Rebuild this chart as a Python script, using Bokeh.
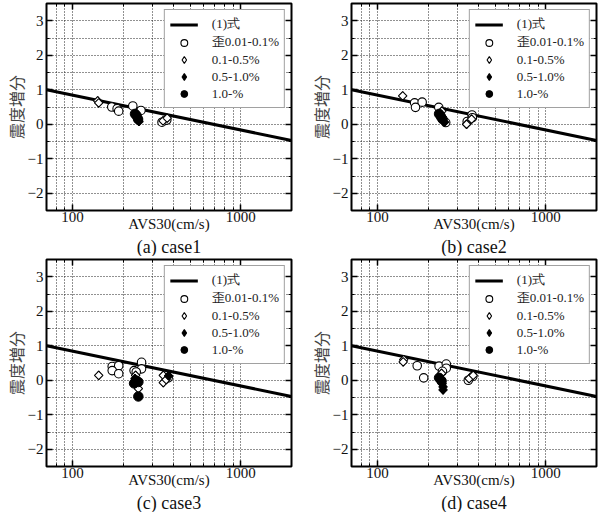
from bokeh.plotting import figure
from bokeh.models import (Range1d, FixedTicker, Legend, LegendItem, LinearAxis, LogAxis,
                          CustomJSTickFormatter, PrintfTickFormatter)
from bokeh.layouts import column, row
from bokeh.embed import file_html
from bokeh.resources import INLINE
import math

# ---- data ----
LINE_X = [70, 2000]
LINE_Y = [1.0, -0.47]

LEGEND_LABELS = ["(1)式", "歪0.01-0.1%", "0.1-0.5%", "0.5-1.0%", "1.0-%"]
TITLES = ["(a) case1", "(b) case2", "(c) case3", "(d) case4"]

X_MAJOR = [100, 1000]
X_MINOR = [70, 80, 90, 200, 300, 400, 500, 600, 700, 800, 900, 2000]
Y_MAJOR = [-2, -1, 0, 1, 2, 3]
Y_MINOR = [-2.5, -1.5, -0.5, 0.5, 1.5, 2.5, 3.5]

# case1
A_OC_X = [171, 184, 188, 228, 255, 340, 363]
A_OC_Y = [0.50, 0.45, 0.38, 0.53, 0.40, 0.06, 0.12]
A_OD_X = [141, 143, 345, 365]
A_OD_Y = [0.68, 0.62, 0.10, 0.18]
A_FD_X = [240, 245, 248]
A_FD_Y = [0.22, 0.15, 0.08]
A_FC_X = [235, 240, 245]
A_FC_Y = [0.30, 0.25, 0.15]

# case2
B_OC_X = [166, 184, 168, 231, 254, 341, 364, 366]
B_OC_Y = [0.62, 0.64, 0.49, 0.49, 0.05, 0.08, 0.27, 0.19]
B_OD_X = [141, 241, 338, 362]
B_OD_Y = [0.82, 0.38, 0.00, 0.15]
B_FD_X = [238, 244, 250]
B_FD_Y = [0.22, 0.14, 0.06]
B_FC_X = [232, 238, 243]
B_FC_Y = [0.30, 0.22, 0.15]

# case3
C_OC_X = [172, 188, 172, 188, 232, 257, 257, 239, 370]
C_OC_Y = [0.40, 0.42, 0.28, 0.19, 0.28, 0.52, 0.33, 0.24, 0.07]
C_OD_X = [143, 237, 242, 246, 346, 346, 360]
C_OD_Y = [0.14, 0.14, 0.00, -0.24, 0.14, -0.07, 0.02]
C_FD_X = [235, 372]
C_FD_Y = [0.05, 0.13]
C_FC_X = [232, 246, 246]
C_FC_Y = [-0.09, -0.05, -0.47]

# case4
D_OC_X = [172, 188, 232, 256, 256, 243, 346, 368]
D_OC_Y = [0.42, 0.07, 0.41, 0.47, 0.35, 0.26, 0.00, 0.11]
D_OD_X = [143, 142, 240, 350, 370]
D_OD_Y = [0.60, 0.53, 0.20, 0.05, 0.14]
D_FD_X = [240, 245, 245, 242]
D_FD_Y = [-0.05, -0.19, -0.28, -0.10]
D_FC_X = [232, 240]
D_FC_Y = [0.07, -0.02]

SERIF = "Liberation Serif"
CJK = "Noto Sans CJK JP"
GRID = "#222222"


def tick_style(ax):
    ax.axis_line_color = None
    ax.major_tick_in = 6
    ax.major_tick_out = 0
    ax.minor_tick_in = 3
    ax.minor_tick_out = 0
    ax.major_tick_line_width = 1.5
    ax.major_tick_line_color = "black"
    ax.minor_tick_line_color = "black"


def make_panel(title, oc, od, fd, fc, left, right):
    p = figure(x_axis_type="log", x_range=Range1d(70, 2000), y_range=Range1d(-2.5, 3.5),
               frame_width=245, frame_height=207, output_backend="svg", toolbar_location=None,
               title=title, title_location="below",
               min_border_left=left, min_border_right=right, min_border_top=3,
               min_border_bottom=0)
    p.title.align = "center"
    p.title.text_font = SERIF
    p.title.text_font_size = "18px"
    p.title.text_font_style = "normal"
    p.title.text_color = "#111111"
    p.title.text_line_height = 1.0
    p.title.standoff = 0
    p.title.offset = 0
    p.outline_line_color = "black"
    p.outline_line_width = 2
    p.background_fill_color = "white"
    p.border_fill_color = "white"

    xticker = FixedTicker(ticks=X_MAJOR, minor_ticks=X_MINOR)
    yticker = FixedTicker(ticks=Y_MAJOR, minor_ticks=Y_MINOR)

    xa = p.xaxis[0]
    xa.ticker = xticker
    xa.formatter = PrintfTickFormatter(format="%d")
    xa.axis_label = "AVS30(cm/s)"
    ya = p.yaxis[0]
    ya.ticker = yticker
    ya.axis_label = "震度増分"
    for ax in (xa, ya):
        tick_style(ax)
        ax.major_label_text_font = SERIF
        ax.major_label_text_font_size = "15px"
        ax.major_label_text_color = "#111111"
        ax.axis_label_text_font_style = "normal"
    xa.axis_label_text_font = SERIF
    xa.axis_label_text_font_size = "15px"
    xa.axis_label_text_color = "#111111"
    xa.major_label_standoff = 1
    xa.axis_label_standoff = -9
    ya.axis_label_text_font = CJK
    ya.axis_label_text_font_size = "16px"
    ya.axis_label_text_color = "#444444"
    ya.major_label_standoff = 3
    ya.axis_label_standoff = -3

    empty = CustomJSTickFormatter(code="return ''")
    ra = LinearAxis(ticker=yticker, formatter=empty, major_label_standoff=0)
    tick_style(ra)
    p.add_layout(ra, "right")
    ta = LogAxis(ticker=xticker, formatter=empty, major_label_standoff=0)
    tick_style(ta)
    p.add_layout(ta, "above")

    for g in (p.xgrid[0], p.ygrid[0]):
        g.grid_line_color = GRID
        g.grid_line_dash = "1 2"
        g.grid_line_width = 1
        g.minor_grid_line_color = GRID
        g.minor_grid_line_dash = "1 2"
        g.minor_grid_line_width = 1
    p.xgrid[0].ticker = xticker
    p.ygrid[0].ticker = yticker

    rl = p.line(LINE_X, LINE_Y, line_color="black", line_width=3)
    r1 = p.scatter(oc[0], oc[1], marker="circle", size=8.5, fill_color="white",
                   line_color="black", line_width=1.1)
    # diamonds: a narrow diamond (used by the legend) covered by a rotated square
    r2 = p.scatter(od[0], od[1], marker="diamond", size=8.5, fill_color="white",
                   line_color="black", line_width=1.1)
    p.scatter(od[0], od[1], marker="square", angle=math.pi / 4, size=6,
              fill_color="white", line_color="black", line_width=1.1)
    r3 = p.scatter(fd[0], fd[1], marker="diamond", size=8.5, fill_color="black",
                   line_color="black", line_width=1.1)
    p.scatter(fd[0], fd[1], marker="square", angle=math.pi / 4, size=6,
              fill_color="black", line_color="black", line_width=1.1)
    r4 = p.scatter(fc[0], fc[1], marker="circle", size=9.5, fill_color="black",
                   line_color="black", line_width=1)

    items = [LegendItem(label=lab, renderers=[r]) for lab, r in
             zip(LEGEND_LABELS, [rl, r1, r2, r3, r4])]
    leg = Legend(items=items, location="top_right")
    leg.label_text_font = SERIF
    leg.label_text_font_size = "13px"
    leg.label_text_color = "#222222"
    leg.glyph_width = 28
    leg.glyph_height = 17
    leg.label_height = 17
    leg.spacing = 0
    leg.padding = 5
    leg.margin = 6
    leg.label_standoff = 14
    leg.border_line_color = "#444444"
    leg.border_line_width = 1.5
    leg.background_fill_color = "white"
    leg.background_fill_alpha = 1
    p.add_layout(leg)
    return p


pa = make_panel(TITLES[0], (A_OC_X, A_OC_Y), (A_OD_X, A_OD_Y), (A_FD_X, A_FD_Y), (A_FC_X, A_FC_Y),
                34, 14)
pb = make_panel(TITLES[1], (B_OC_X, B_OC_Y), (B_OD_X, B_OD_Y), (B_FD_X, B_FD_Y), (B_FC_X, B_FC_Y),
                40, 2)
pc = make_panel(TITLES[2], (C_OC_X, C_OC_Y), (C_OD_X, C_OD_Y), (C_FD_X, C_FD_Y), (C_FC_X, C_FC_Y),
                34, 14)
pd = make_panel(TITLES[3], (D_OC_X, D_OC_Y), (D_OD_X, D_OD_Y), (D_FD_X, D_FD_Y), (D_FC_X, D_FC_Y),
                40, 2)

layout = column(row(pa, pb), row(pc, pd))
open("out.html", "w").write(file_html(layout, INLINE))
